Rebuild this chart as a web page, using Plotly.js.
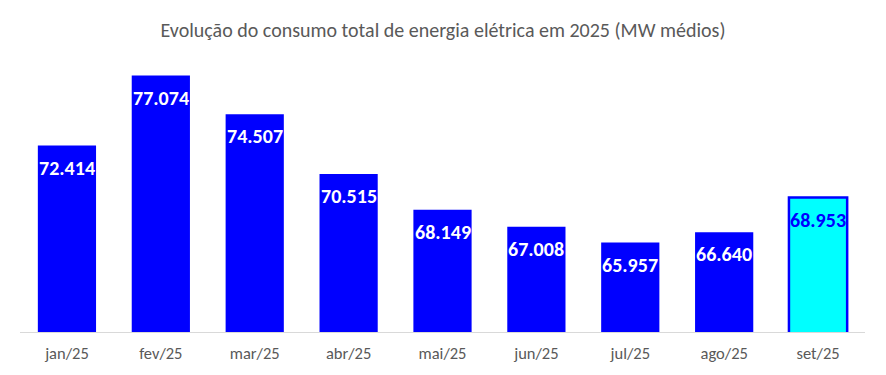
<!DOCTYPE html>
<html><head><meta charset="utf-8">
<script src="https://cdn.plot.ly/plotly-3.0.1.min.js"></script>
<style>html,body{margin:0;padding:0;background:#fff}#c{width:886px;height:375px}</style>
</head><body><div id="c"></div>
<script>
const months = ["jan/25","fev/25","mar/25","abr/25","mai/25","jun/25","jul/25","ago/25","set/25"];
const consumo = [72414, 77074, 74507, 70515, 68149, 67008, 65957, 66640, 68953];
const barColors = ["#0000FF","#0000FF","#0000FF","#0000FF","#0000FF","#0000FF","#0000FF","#0000FF","#00FFFF"];
const lineColors = ["#0000FF","#0000FF","#0000FF","#0000FF","#0000FF","#0000FF","#0000FF","#0000FF","#0000FF"];
const lineWidths = [0,0,0,0,0,0,0,0,2.5];
const labelColors = ["#FFFFFF","#FFFFFF","#FFFFFF","#FFFFFF","#FFFFFF","#FFFFFF","#FFFFFF","#FFFFFF","#0000FF"];

const fmt = v => {
  const s = String(v);
  return s.slice(0, s.length-3) + "." + s.slice(-3);
};

const trace = {
  type: "bar", x: months, y: consumo,
  marker: {color: barColors, line: {color: lineColors, width: lineWidths}},
  hoverinfo: "skip"
};

const annotations = months.map((m,i) => ({
  x: m, y: consumo[i], xref: "x", yref: "y",
  text: "<b>" + fmt(consumo[i]) + "</b>",
  showarrow: false, yanchor: "middle", yshift: -22,
  font: {family: "Carlito, Lato, 'Open Sans', sans-serif", size: 20, color: labelColors[i]}
}));

const layout = {
  width: 886, height: 375,
  margin: {l: 20, r: 21, t: 50, b: 43},
  paper_bgcolor: "#fff", plot_bgcolor: "#fff",
  title: {text: "Evolução do consumo total de energia elétrica em 2025 (MW médios)",
    x: 0.5, xanchor: "center", y: 0.92, yanchor: "middle",
    font: {family: "Carlito, 'Liberation Sans Narrow', Lato, sans-serif", size: 20, color: "#595959"}},
  bargap: 0.38,
  showlegend: false,
  xaxis: {showline: true, linecolor: "#D9D9D9", linewidth: 1, ticks: "", showgrid: false,
    ticklabelstandoff: 6,
    tickfont: {family: "Carlito, Lato, 'Open Sans', sans-serif", size: 16.5, color: "#595959"}},
  yaxis: {range: [60000, 78780], visible: false, showgrid: false, zeroline: false},
  annotations: annotations
};

Plotly.newPlot("c", [trace], layout, {displayModeBar: false, staticPlot: true});
</script></body></html>
